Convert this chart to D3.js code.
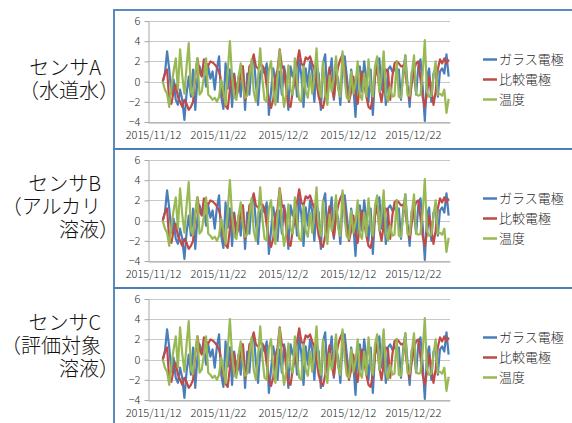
<!DOCTYPE html>
<html>
<head>
<meta charset="utf-8">
<script src="https://cdn.jsdelivr.net/npm/d3@7"></script>
<style>
  body { margin: 0; background: #fff; }
  svg { display: block; }
  text { font-family: "Noto Sans CJK JP", "Noto Sans", sans-serif; }
</style>
</head>
<body>
<svg width="572" height="423"></svg>
<script>
const sensorLabels = [
  ['センサA', '（水道水）'],
  ['センサB', '（アルカリ', '溶液）'],
  ['センサC', '（評価対象', '溶液）']
];
const seriesNames = ['ガラス電極', '比較電極', '温度'];
const seriesColors = ['#4a7ebb', '#be4b48', '#98b954'];
const xTickLabels = ['2015/11/12', '2015/11/22', '2015/12/2', '2015/12/12', '2015/12/22'];
const yTicks = [-4, -2, 0, 2, 4, 6];

// one reading every 8 hours from 2015/11/13 12:00
const startTime = new Date(2015, 10, 13, 12);
const stepHours = 8;

const glass = [
  0, 0.8, 3.0, 1.2, -1.2, 0.2, -1.8, -2.3, -0.8, -1.8,
  -3.8, -1.2, 0.5, -1.5, 1.2, -2.8, 0.2, 1.5, 0.8, 1.2,
  -0.5, 1.5, 0.3, 1.0, -0.8, 1.3, 2.5, -1.5, -2.7, 1.8,
  -0.7, 1.2, -2.5, 0.8, -1.2, 0.5, -1.5, 1.5, -2.8, 0.8,
  -1.3, 1.8, 2.5, -0.2, -2.3, 0.8, 1.3, 0.8, 1.8, -3.3,
  -1.0, 1.3, 0.2, -2.0, 1.0, -1.3, 1.5, 0.3, -2.8, 1.5,
  0.5, 1.2, -1.5, 2.2, 0.6, -2.5, 1.3, -0.5, 2.0, 1.0,
  -2.0, 1.5, 0.8, -2.8, 1.8, 2.7, -1.5, 0.5, 2.3, -1.8,
  1.0, 0.2, -2.3, 1.5, 2.5, 0.5, -1.8, 1.2, -0.5, -3.5,
  0.8, 1.5, -1.0, 2.0, 0.3, -2.0, 1.2, -3.3, 0.5, 1.8,
  2.3, -0.8, 1.5, -2.3, 1.2, 1.5, 1.0, 1.3, 0.8, 1.2,
  -1.8, 1.0, 2.6, -0.3, -2.5, 1.0, 0.8, -1.3, 1.5, 2.2,
  -0.5, -3.9, 0.5, 1.3, -2.0, 0.8, 1.2, -1.5, 1.0, 1.3,
  0.8, 2.7, 0.5
];
const reference = [
  0, 0.8, 1.2, -2.0, -2.2, -1.0, -0.3, -1.5, -2.0, -2.5,
  -1.8, -2.2, -2.8, -2.5, -2.0, 0.5, 2.3, 1.0, 0.5, 2.2,
  1.8, 1.6, 2.0, 1.9, 1.7, 1.4, 1.0, 0.0, -1.5, -2.4,
  -2.7, -0.8, 0.8, 0.5, -1.5, -0.7, 0.8, 1.5, -1.8, -1.0,
  1.5, 1.8, 2.7, 1.5, 1.3, 1.7, 1.6, 1.2, -0.5, -2.0,
  -2.6, -1.8, 0.3, 1.2, 3.2, 1.5, 1.2, -0.8, -2.3, -2.5,
  -1.0, 0.0, 1.8, 3.1, 1.8, 1.5, 2.4, 2.2, 2.5, 1.8,
  1.2, 0.0, -1.5, -2.3, -2.6, -1.5, 0.0, 1.4, -0.5, -1.6,
  0.3, 1.5, 2.2, 2.7, 1.3, -0.8, -2.0, -1.0, 0.5, -1.2,
  -2.2, -0.5, 1.0, -0.2, -1.5, -2.5, -2.7, -1.5, 0.5, 1.5,
  -0.8, -2.0, -0.5, 1.2, 1.0, -1.8, 0.5, 1.8, 2.0, 1.8,
  1.5, 1.6, 0.8, -0.8, -1.8, -0.2, 1.2, 1.8, 2.0, 0.3,
  -1.5, -2.5, -1.2, 0.5, -0.8, -2.3, -1.0, 1.2, 2.2, 1.8,
  2.3, 1.8, 2.2
];
const temperature = [
  0, -0.8, -1.2, -2.5, -0.5, 1.0, 2.3, -0.8, 3.2, 0.6,
  -1.2, 1.5, 3.8, -1.0, -1.4, 0.8, 2.3, -1.3, -1.0, 0.5,
  2.3, -1.3, -1.5, -1.8, -1.6, -2.0, -1.5, 0.2, -1.0, -2.3,
  1.0, 4.0, 0.5, -1.5, -1.8, 0.5, 1.8, -0.5, -1.6, -1.4,
  0.6, 2.2, -1.0, -2.0, 0.3, 3.3, 0.2, -1.8, -2.0, 1.2,
  2.0, -0.8, -2.3, 0.5, 3.1, -0.5, -2.5, -1.2, 1.6, -0.8,
  -1.3, 2.3, 0.0, -1.8, -2.0, 1.5, -1.0, -1.6, 0.8, -1.2,
  0.5, 3.3, -0.5, -1.5, 2.0, -1.0, -2.3, 0.6, -1.0, 0.4,
  2.5, -0.8, -1.5, 3.0, 0.2, -1.6, -1.8, 1.0, -1.2, -0.2,
  2.0, -1.3, -1.8, 0.8, -1.5, 2.2, -0.5, -1.5, 1.5, 2.5,
  -1.0, 0.5, 3.0, -1.2, -2.0, -0.5, -1.5, -1.4, 2.0, -1.5,
  -1.6, 0.5, 2.6, -1.3, -1.4, 0.8, 2.6, -1.2, -1.4, -1.3,
  0.8, 4.1, -1.0, -1.5, -1.4, 0.5, 2.0, -1.3, -1.2, -1.4,
  -0.8, -3.1, -1.7
];

// the three sensors show the same traces in the source
const panelSeries = [
  [glass, reference, temperature],
  [glass, reference, temperature],
  [glass, reference, temperature]
];

const svg = d3.select('svg');
const panelTop = [10, 149, 288];
const panelHeight = 139;
const axisColor = '#a6a6a6';

const xScale = d3.scaleTime()
  .domain([new Date(2015, 10, 11, 5, 30), new Date(2015, 11, 27, 17)])
  .range([148, 450]);

const yScale = d3.scaleLinear()
  .domain([-4, 6])
  .range([112, 11]);

const parseDay = d3.timeParse('%Y/%m/%d');
const tickDates = xTickLabels.map(parseDay);

const line = d3.line()
  .x((d, i) => xScale(d3.timeHour.offset(startTime, i * stepHours)))
  .y((d) => yScale(d));

panelTop.forEach((top, p) => {
  const panel = svg.append('g')
    .attr('transform', `translate(0, ${top})`);

  panel.append('g')
    .selectAll('line')
    .data(yTicks)
    .enter()
    .append('line')
    .attr('x1', 148)
    .attr('x2', 450)
    .attr('y1', (d) => Math.round(yScale(d)) + 0.5)
    .attr('y2', (d) => Math.round(yScale(d)) + 0.5)
    .attr('stroke', '#c8c8c8')
    .attr('stroke-width', 1);

  const yAxis = panel.append('g')
    .attr('transform', 'translate(148.5, 0)')
    .call(d3.axisLeft(yScale).tickValues(yTicks).tickSize(4).tickSizeOuter(0).tickPadding(4));

  const xAxis = panel.append('g')
    .attr('transform', `translate(0, ${Math.round(yScale(-4)) + 0.5})`)
    .call(d3.axisBottom(xScale).tickValues(tickDates).tickSize(0).tickSizeOuter(0).tickPadding(9)
      .tickFormat((d, i) => xTickLabels[i]));

  [yAxis, xAxis].forEach((ax) => {
    ax.select('.domain').attr('stroke', axisColor);
    ax.selectAll('.tick line').attr('stroke', axisColor);
    ax.selectAll('text')
      .attr('fill', '#262626')
      .attr('font-size', '11px')
      .attr('font-weight', 300)
      .attr('font-family', '"Noto Sans CJK JP", "Noto Sans", sans-serif');
  });

  panelSeries[p].forEach((values, k) => {
    panel.append('path')
      .datum(values)
      .attr('d', line)
      .attr('fill', 'none')
      .attr('stroke', seriesColors[k])
      .attr('stroke-width', 2.2)
      .attr('stroke-linejoin', 'round');
  });

  seriesNames.forEach((name, k) => {
    const ly = 49.5 + k * 20;
    panel.append('line')
      .attr('x1', 483)
      .attr('x2', 497)
      .attr('y1', ly)
      .attr('y2', ly)
      .attr('stroke', seriesColors[k])
      .attr('stroke-width', 2.5);
    panel.append('text')
      .attr('x', 499)
      .attr('y', ly)
      .attr('dy', '0.36em')
      .attr('font-size', '13px')
      .attr('font-weight', 300)
      .attr('fill', '#262626')
      .text(name);
  });

  // sensor name, wrapped over a few lines in one text block
  const lines = sensorLabels[p];
  const label = panel.append('text')
    .attr('text-anchor', 'end')
    .attr('font-size', '20px')
    .attr('font-weight', 300)
    .attr('fill', '#111');
  lines.forEach((t, k) => {
    label.append('tspan')
      .attr('x', t.endsWith('）') ? 119 : 101)
      .attr('y', 88 - (lines.length - 1 - k) * 23)
      .text(t);
  });

  panel.append('rect')
    .attr('x', 114)
    .attr('y', 0)
    .attr('width', 470)
    .attr('height', panelHeight)
    .attr('fill', 'none')
    .attr('stroke', '#4a7ebb')
    .attr('stroke-width', 1.8);
});
</script>
</body>
</html>
